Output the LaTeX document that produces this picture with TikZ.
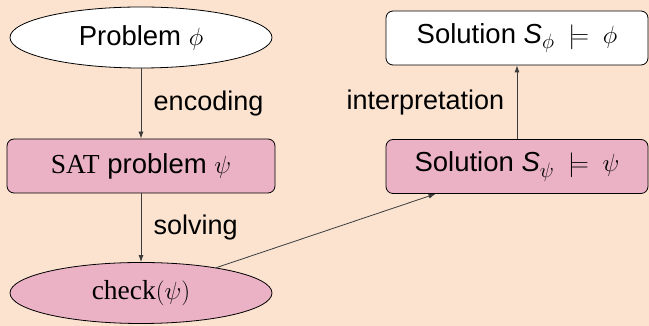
\documentclass[tikz,border=0pt]{standalone}
\usepackage{fontspec}
\setmainfont{Liberation Sans}
\setsansfont{Liberation Sans}
\newfontfamily\timesfont{Liberation Serif}
\usetikzlibrary{shapes.geometric,arrows.meta}
\definecolor{pagebg}{RGB}{251,227,208}
\definecolor{boxpink}{RGB}{235,178,197}
\definecolor{linkgray}{RGB}{60,60,60}
\tikzset{
  x=1pt, y=1pt,
  every node/.style={font=\fontsize{27.5}{32}\selectfont, text=black},
  ovalbox/.style={ellipse, draw=black, line width=0.8pt, minimum width=262pt, minimum height=61pt, inner sep=0pt},
  roundbox/.style={rectangle, rounded corners=7pt, draw=black, line width=0.8pt, minimum width=262pt, minimum height=54pt, inner sep=0pt},
  pinkfill/.style={fill=boxpink},
  whitefill/.style={fill=white},
  link/.style={draw=linkgray, line width=0.8pt, -{Latex[length=7pt,width=5pt]}},
  linklabel/.style={font=\fontsize{27}{32}\selectfont}
}
\newcommand{\sitS}{\textsf{\itshape S}}
\begin{document}
\begin{tikzpicture}
  \fill[pagebg] (0,0) rectangle (649,326);
  \useasboundingbox (0,0) rectangle (649,326);

  \node[ovalbox, whitefill] (prob) at (141,288.5) {Problem $\phi$};
  \node[roundbox, pinkfill, minimum width=268pt] (sat) at (141,160) {{\timesfont SAT} problem $\psi$};
  \node[ovalbox, pinkfill] (check) at (141,33) {{\timesfont check}$(\psi)$};
  \node[roundbox, pinkfill] (solpsi) at (517,159.5) {Solution $\sitS_{\psi}\;\models\;\psi$};
  \node[roundbox, whitefill] (solphi) at (517,288) {Solution $\sitS_{\phi}\;\models\;\phi$};

  \draw[link] (prob) -- node[midway, right=9pt, linklabel] {encoding} (sat);
  \draw[link] (sat) -- node[midway, right=9pt, linklabel] {solving} (check);
  \draw[link] (check) -- (solpsi);
  \draw[link] (solpsi) -- node[midway, left=9pt, linklabel] {interpretation} (solphi);
\end{tikzpicture}
\end{document}
